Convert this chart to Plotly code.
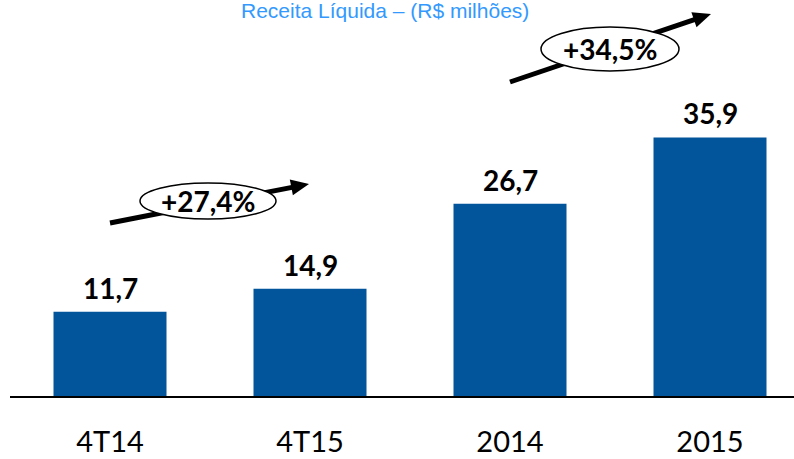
import math
import plotly.graph_objects as go

categories = ["4T14", "4T15", "2014", "2015"]
values = [11.7, 14.9, 26.7, 35.9]
growth_labels = ["+27,4%", "+34,5%"]
title_text = "Receita Líquida – (R$ milhões)"

BAR_COLOR = "#02559A"
W, H = 794, 459
L, R, T, B = 10, 0, 5, 63
X0, X1 = -0.5, 3.42
Y1 = 54.3

pw = W - L - R
ph = H - T - B


def dx(px):
    return X0 + (px - L) / pw * (X1 - X0)


def dy(py):
    return (H - B - py) / ph * Y1


xs = list(range(len(categories)))

fig = go.Figure()
fig.add_trace(go.Bar(
    x=xs, y=values, width=0.565,
    marker=dict(color=BAR_COLOR, line=dict(width=0)),
    hoverinfo="skip",
))

shapes = []
annotations = []

# value labels
for x, v in zip(xs, values):
    annotations.append(dict(
        x=x, y=v, xref="x", yref="y", text=f"<b>{v:.1f}</b>".replace(".", ","),
        showarrow=False, yanchor="middle", yshift=24,
        font=dict(family="Lato", size=28, color="black"),
    ))

# growth arrows with ellipses
arrows = [
    dict(tail=(110, 223), tip=(309, 184), ell=(140, 183, 276, 219), label=growth_labels[0]),
    dict(tail=(510, 82), tip=(711, 14), ell=(541, 27, 679, 71), label=growth_labels[1]),
]
for a in arrows:
    (tx, ty), (hx, hy) = a["tail"], a["tip"]
    L_ = math.hypot(hx - tx, hy - ty)
    ux, uy = (hx - tx) / L_, (hy - ty) / L_
    nx, ny = -uy, ux
    hl, hw = 18, 8
    bx, by = hx - ux * hl, hy - uy * hl
    shapes.append(dict(type="line", xref="x", yref="y",
                       x0=dx(tx), y0=dy(ty), x1=dx(bx + ux * 2), y1=dy(by + uy * 2),
                       line=dict(color="black", width=5)))
    p1 = (bx + nx * hw, by + ny * hw)
    p2 = (bx - nx * hw, by - ny * hw)
    path = f"M {dx(hx)},{dy(hy)} L {dx(p1[0])},{dy(p1[1])} L {dx(p2[0])},{dy(p2[1])} Z"
    shapes.append(dict(type="path", xref="x", yref="y", path=path,
                       fillcolor="black", line=dict(color="black", width=0)))
    ex0, ey0, ex1, ey1 = a["ell"]
    shapes.append(dict(type="circle", xref="x", yref="y",
                       x0=dx(ex0), x1=dx(ex1), y0=dy(ey1), y1=dy(ey0),
                       fillcolor="white", line=dict(color="black", width=1.5)))
    annotations.append(dict(
        x=dx((ex0 + ex1) / 2), y=dy((ey0 + ey1) / 2), xref="x", yref="y",
        text=f"<b>{a['label']}</b>", showarrow=False,
        font=dict(family="Lato", size=28, color="black"),
    ))

annotations.append(dict(
    x=dx(385), y=dy(10), xref="x", yref="y", text=title_text, showarrow=False,
    font=dict(family="Liberation Sans", size=21, color="#3399FF"),
))

fig.update_layout(
    width=W, height=H,
    margin=dict(l=L, r=R, t=T, b=B, autoexpand=False),
    paper_bgcolor="white", plot_bgcolor="white",
    showlegend=False,
    shapes=shapes, annotations=annotations,
    xaxis=dict(range=[X0, X1], tickvals=xs, ticktext=categories,
               showline=True, linecolor="black", linewidth=2,
               showgrid=False, zeroline=False, ticks="", automargin=False,
               tickfont=dict(family="Lato", size=29, color="black"),
               ticklabelstandoff=19),
    yaxis=dict(range=[0, Y1], visible=False, showgrid=False, zeroline=False,
               automargin=False),
)

fig.write_html("out.html", config={"displayModeBar": False},
               post_script="document.body.style.margin='0';")
